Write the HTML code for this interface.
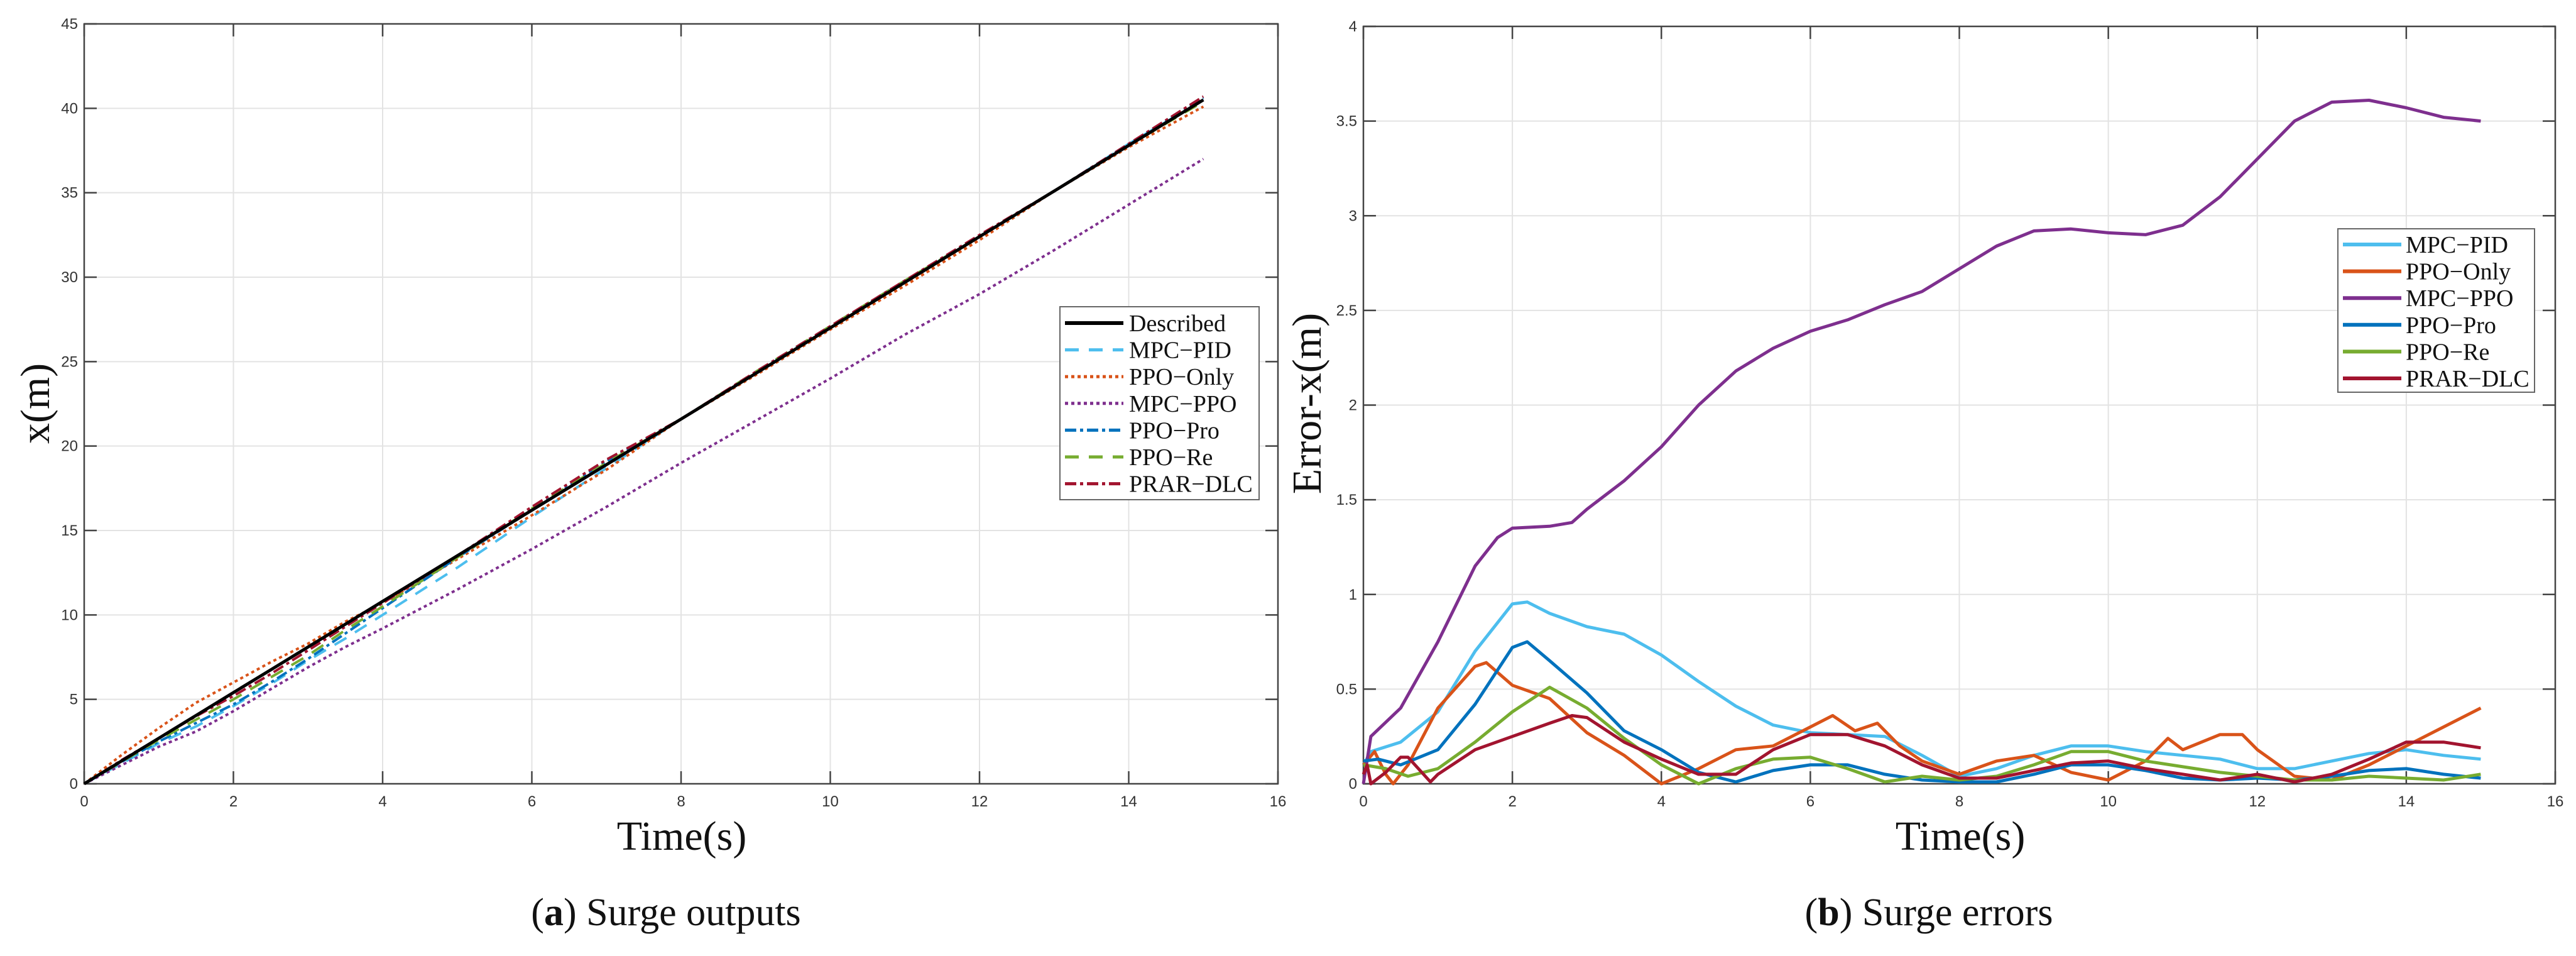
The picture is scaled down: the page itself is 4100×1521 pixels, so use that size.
<!DOCTYPE html>
<html><head><meta charset="utf-8"><style>
html,body{margin:0;padding:0;background:#fff;}
svg{display:block;}
.tick{font-family:"Liberation Sans",sans-serif;font-size:24px;fill:#333;}
.ttl{font-family:"Liberation Serif",serif;fill:#111;}
</style></head><body>
<svg id="fig" width="4100" height="1521" viewBox="0 0 4100 1521">
<rect width="4100" height="1521" fill="#fff"/>
<g id="pa"></g>
<g id="pb"></g>
<text class="ttl" x="1085" y="1352" font-size="66" text-anchor="middle" transform="scale(1,1)">Time(s)</text>
<text class="ttl" x="1060" y="1472" font-size="62" text-anchor="middle">(<tspan font-weight="bold">a</tspan>) Surge outputs</text>
<text class="ttl" x="78" y="642" font-size="66" text-anchor="middle" transform="rotate(-90 78 642)">x(m)</text>
<text class="ttl" x="3120" y="1352" font-size="66" text-anchor="middle">Time(s)</text>
<text class="ttl" x="3070" y="1472" font-size="62" text-anchor="middle">(<tspan font-weight="bold">b</tspan>) Surge errors</text>
<text class="ttl" x="2102" y="642" font-size="66" text-anchor="middle" transform="rotate(-90 2102 642)">Error-x(m)</text>
</svg>
<script>
const xTicks=[0,2,4,6,8,10,12,14,16];
const yTicksA=[0,5,10,15,20,25,30,35,40,45];
const yTicksB=[0,0.5,1,1.5,2,2.5,3,3.5,4];
const yTickLabelsB=['0','0.5','1','1.5','2','2.5','3','3.5','4'];
const namesA=['Described','MPC\u2212PID','PPO\u2212Only','MPC\u2212PPO','PPO\u2212Pro','PPO\u2212Re','PRAR\u2212DLC'];
const tA=[0,0.5,1,1.5,2,2.5,3,3.5,4,5,6,7,8,9,10,11,12,13,14,15];
const describedY=[0,1.35,2.7,4.05,5.4,6.75,8.1,9.45,10.8,13.5,16.2,18.9,21.6,24.3,27,29.7,32.4,35.1,37.8,40.5];
const mpcPidY=[0,1.2,2.4,3.4,4.6,5.9,7.3,8.6,10,12.8,15.8,18.7,21.6,24.4,27.1,29.8,32.4,35.1,37.9,40.5];
const ppoOnlyY=[0,1.7,3.3,4.8,6.0,7.2,8.3,9.6,10.7,13.3,15.9,18.6,21.6,24.2,26.9,29.5,32.2,35.1,37.7,40.1];
const mpcPpoY=[0,1.1,2.2,3.1,4.3,5.6,6.9,8.1,9.2,11.5,13.9,16.4,19,21.5,24,26.6,29,31.6,34.3,37];
const ppoProY=[0,1.3,2.5,3.6,4.7,6.0,7.4,8.9,10.4,13.4,16.2,19.1,21.6,24.3,27,29.8,32.4,35.1,37.9,40.6];
const ppoReY=[0,1.3,2.6,3.8,5.0,6.3,7.6,9.1,10.5,13.4,16.3,19.0,21.6,24.4,27.1,29.8,32.4,35.1,37.8,40.4];
const prarY=[0,1.4,2.7,4.0,5.2,6.5,7.9,9.3,10.7,13.5,16.4,19.2,21.6,24.4,27.1,29.8,32.5,35.1,37.9,40.7];
const seriesA=[describedY,mpcPidY,ppoOnlyY,mpcPpoY,ppoProY,ppoReY,prarY];
const namesB=['MPC\u2212PID','PPO\u2212Only','MPC\u2212PPO','PPO\u2212Pro','PPO\u2212Re','PRAR\u2212DLC'];
const tPid=[0,0.1,0.5,1,1.5,2,2.2,2.5,3,3.5,4,4.5,5,5.5,6,6.5,7,7.5,8,8.5,9,9.5,10,10.5,11,11.5,12,12.5,13,13.5,14,14.5,15];
const pidE=[0.1,0.17,0.22,0.38,0.7,0.95,0.96,0.9,0.83,0.79,0.68,0.54,0.41,0.31,0.27,0.26,0.25,0.15,0.04,0.08,0.15,0.2,0.2,0.17,0.15,0.13,0.08,0.08,0.12,0.16,0.18,0.15,0.13];
const tOnly=[0,0.15,0.3,0.4,0.6,1,1.5,1.65,2,2.5,3,3.5,4,4.5,5,5.5,6,6.3,6.6,6.9,7.2,7.5,8,8.5,9,9.5,10,10.5,10.8,11,11.5,11.8,12,12.5,13,13.5,14,14.5,15];
const onlyE=[0.1,0.17,0.05,0,0.1,0.4,0.62,0.64,0.52,0.45,0.27,0.15,0,0.08,0.18,0.2,0.3,0.36,0.28,0.32,0.2,0.12,0.05,0.12,0.15,0.06,0.02,0.12,0.24,0.18,0.26,0.26,0.18,0.04,0.02,0.1,0.2,0.3,0.4];
const tPpo=[0,0.1,0.5,1,1.5,1.8,2,2.5,2.8,3,3.5,4,4.5,5,5.5,6,6.5,7,7.5,8,8.5,9,9.5,10,10.5,11,11.5,12,12.5,13,13.5,14,14.5,15];
const ppoE=[0,0.25,0.4,0.75,1.15,1.3,1.35,1.36,1.38,1.45,1.6,1.78,2.0,2.18,2.3,2.39,2.45,2.53,2.6,2.72,2.84,2.92,2.93,2.91,2.9,2.95,3.1,3.3,3.5,3.6,3.61,3.57,3.52,3.5];
const tStep=[0,0.2,0.5,1,1.5,2,2.2,2.5,3,3.5,4,4.5,5,5.5,6,6.5,7,7.5,8,8.5,9,9.5,10,10.5,11,11.5,12,12.5,13,13.5,14,14.5,15];
const proE=[0.12,0.13,0.1,0.18,0.42,0.72,0.75,0.65,0.48,0.28,0.18,0.06,0.01,0.07,0.1,0.1,0.05,0.02,0.01,0.01,0.05,0.1,0.1,0.07,0.03,0.02,0.03,0.02,0.04,0.07,0.08,0.05,0.03];
const tRe=[0,0.3,0.6,1,1.5,2,2.5,3,3.5,4,4.5,5,5.5,6,6.5,7,7.5,8,8.5,9,9.5,10,10.5,11,11.5,12,12.5,13,13.5,14,14.5,15];
const reE=[0.1,0.08,0.04,0.08,0.22,0.38,0.51,0.4,0.24,0.1,0,0.08,0.13,0.14,0.08,0.01,0.04,0.02,0.04,0.1,0.17,0.17,0.12,0.09,0.06,0.04,0.02,0.02,0.04,0.03,0.02,0.05];
const tPrar=[0,0.05,0.1,0.3,0.5,0.6,0.9,1,1.5,2,2.5,2.8,3,3.5,4,4.5,5,5.5,6,6.5,7,7.5,8,8.5,9,9.5,10,10.5,11,11.5,12,12.5,13,13.5,14,14.5,15];
const prarE=[0.05,0.1,0,0.06,0.14,0.14,0.01,0.05,0.18,0.25,0.32,0.36,0.35,0.22,0.13,0.05,0.05,0.18,0.26,0.26,0.2,0.1,0.03,0.03,0.07,0.11,0.12,0.08,0.05,0.02,0.05,0.01,0.05,0.13,0.22,0.22,0.19];
const seriesB=[[tPid,pidE],[tOnly,onlyE],[tPpo,ppoE],[tStep,proE],[tRe,reE],[tPrar,prarE]];

const NS='http://www.w3.org/2000/svg';
const colA=['#000000','#4dbeee','#d95319','#7e2f8e','#0072bd','#77ac30','#a2142f'];
const dashA=['','22,16','5,5','5,5','18,6,5,6','22,16','18,6,5,6'];
const widA=[5,4,4,4,4,4,4];
const colB=['#4dbeee','#d95319','#7e2f8e','#0072bd','#77ac30','#a2142f'];
function mk(tag,attrs,parent){const e=document.createElementNS(NS,tag);for(const k in attrs)e.setAttribute(k,attrs[k]);parent.appendChild(e);return e;}
function drawAxes(g,L,R,T,B,ymax,yt,ylabels,pfx){
  const sx=v=>L+(v/16)*(R-L), sy=v=>B-(v/ymax)*(B-T);
  xTicks.forEach(v=>{
    const l=mk('line',{x1:sx(v),x2:sx(v),y1:T,y2:B,stroke:'#e3e3e3','stroke-width':2},g);
    
    
  });
  yt.forEach(v=>{
    const l=mk('line',{x1:L,x2:R,y1:sy(v),y2:sy(v),stroke:'#e3e3e3','stroke-width':2},g);
    
    
  });
  const fr=mk('rect',{x:L,y:T,width:R-L,height:B-T,fill:'none',stroke:'#444','stroke-width':2.5},g);
  
  
  xTicks.forEach(v=>{
    mk('line',{x1:sx(v),x2:sx(v),y1:B,y2:B-20,stroke:'#444','stroke-width':2.5},g);
    mk('line',{x1:sx(v),x2:sx(v),y1:T,y2:T+20,stroke:'#444','stroke-width':2.5},g);
    const t=mk('text',{x:sx(v),y:B+36,'text-anchor':'middle',class:'tick'},g);
    t.textContent=v;
    
    
  });
  yt.forEach((v,i)=>{
    mk('line',{x1:L,x2:L+20,y1:sy(v),y2:sy(v),stroke:'#444','stroke-width':2.5},g);
    mk('line',{x1:R,x2:R-20,y1:sy(v),y2:sy(v),stroke:'#444','stroke-width':2.5},g);
    const t=mk('text',{x:L-10,y:sy(v)+8,'text-anchor':'end',class:'tick'},g);
    t.textContent=ylabels[i];
    
    
  });
  return [sx,sy];
}
// chart a
const ga=document.getElementById('pa');
const [sxa,sya]=drawAxes(ga,134,2034,38,1247,45,yTicksA,yTicksA.map(String),'a-');
[1,2,3,4,5,6,0].forEach(i=>{
  const d=seriesA[i].map((v,j)=>(j?'L':'M')+sxa(tA[j]).toFixed(1)+','+sya(v).toFixed(1)).join('');
  const p=mk('path',{d:d,fill:'none',stroke:colA[i],'stroke-width':widA[i],'stroke-dasharray':dashA[i],'stroke-linejoin':'round'},ga);
  
  
});
const la=mk('g',{},ga);


mk('rect',{x:1687,y:488,width:317,height:307,fill:'#fff',stroke:'#666','stroke-width':2},la);
namesA.forEach((n,i)=>{
  const y=514+i*42.6;
  mk('line',{x1:1695,x2:1788,y1:y,y2:y,stroke:colA[i],'stroke-width':widA[i]+1,'stroke-dasharray':dashA[i]},la);
  const t=mk('text',{x:1797,y:y+13,class:'ttl','font-size':38},la);
  t.textContent=n;
  
  
});
// chart b
const gb=document.getElementById('pb');
const [sxb,syb]=drawAxes(gb,2170,4067,42,1247,4,yTicksB,yTickLabelsB,'b-');
seriesB.forEach((s,i)=>{
  const d=s[1].map((v,j)=>(j?'L':'M')+sxb(s[0][j]).toFixed(1)+','+syb(v).toFixed(1)).join('');
  const p=mk('path',{d:d,fill:'none',stroke:colB[i],'stroke-width':5,'stroke-linejoin':'round'},gb);
  
  
});
const lb=mk('g',{},gb);


mk('rect',{x:3721,y:364,width:313,height:260,fill:'#fff',stroke:'#666','stroke-width':2},lb);
namesB.forEach((n,i)=>{
  const y=389+i*42.6;
  mk('line',{x1:3729,x2:3822,y1:y,y2:y,stroke:colB[i],'stroke-width':6},lb);
  const t=mk('text',{x:3829,y:y+13,class:'ttl','font-size':38},lb);
  t.textContent=n;
  
  
});
</script>
</body></html>
